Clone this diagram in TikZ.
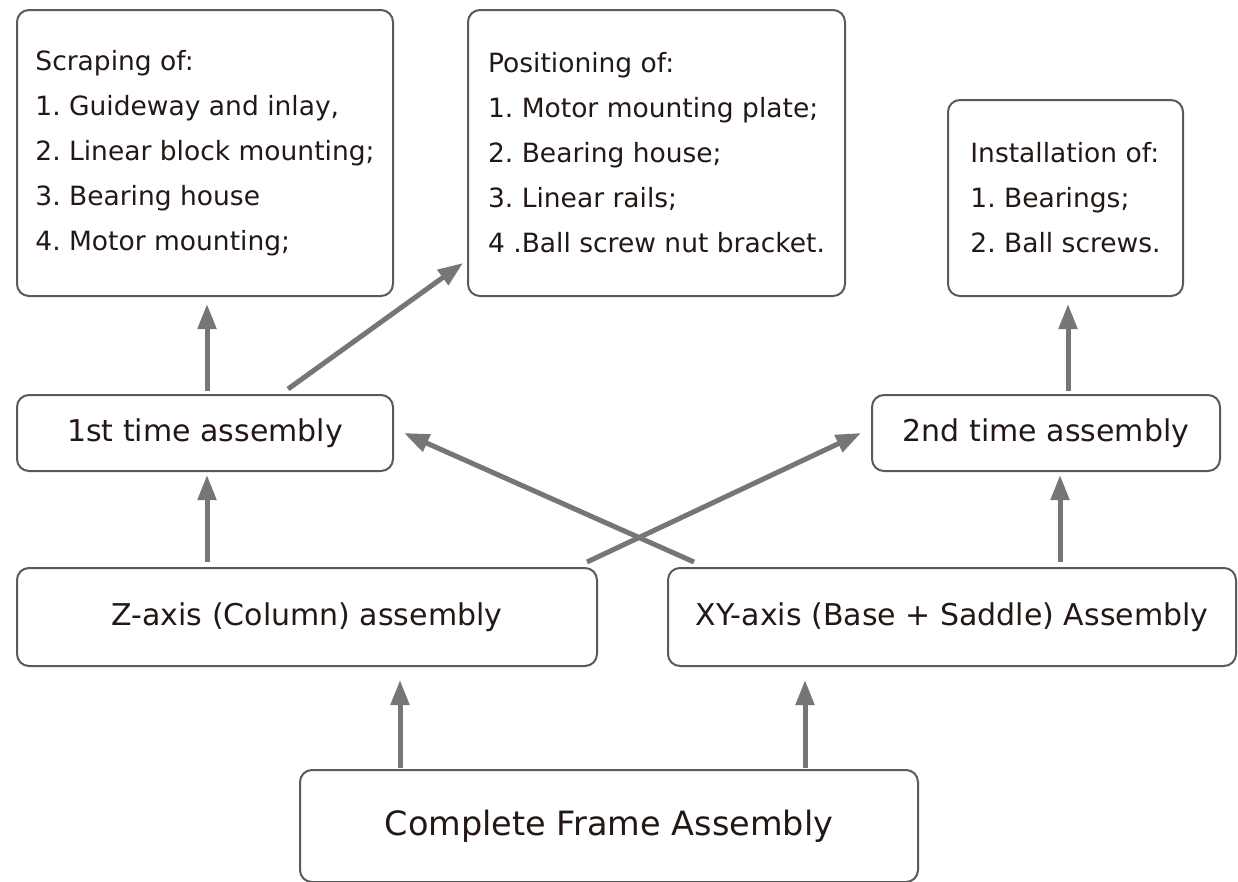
\documentclass[tikz,border=0pt]{standalone}
\usepackage{fontspec}
\setmainfont{DejaVu Sans}
\usetikzlibrary{arrows.meta}
\definecolor{boxline}{HTML}{5A5A5A}
\definecolor{arrowgray}{HTML}{767676}
\definecolor{txt}{HTML}{231816}
\frenchspacing
\begin{document}
\begin{tikzpicture}[x=1pt,y=-1pt,
  box/.style={draw=boxline, line width=2pt, rounded corners=12pt, fill=white,
    text=txt, align=left, inner sep=0pt},
  toptext/.style={font=\fontsize{26.5}{45}\selectfont},
  midtext/.style={font=\fontsize{30}{36}\selectfont},
  bottext/.style={font=\fontsize{33.5}{40}\selectfont},
  arr/.style={draw=arrowgray, line width=5pt,
    -{Triangle[length=25pt,width=18pt]}}]
\useasboundingbox[fill=white] (0,0) rectangle (1238,881);

% top boxes
\node[box, toptext, minimum width=376pt, minimum height=286pt] (A) at (205,153)
  {Scraping of:\\1. Guideway and inlay,\\2. Linear block mounting;\\3. Bearing house\\4. Motor mounting;};
\node[box, toptext, minimum width=377pt, minimum height=286pt] (B) at (656.5,153)
  {Positioning of:\\1. Motor mounting plate;\\2. Bearing house;\\3. Linear rails;\\4 .Ball screw nut bracket.};
\node[box, toptext, minimum width=235pt, minimum height=196pt] (C) at (1065.5,198)
  {Installation of:\\1. Bearings;\\2. Ball screws.};

% middle boxes
\node[box, midtext, minimum width=376pt, minimum height=76pt] (D) at (205,433) {1st time assembly};
\node[box, midtext, minimum width=348pt, minimum height=76pt] (E) at (1046,433) {2nd time assembly};

% lower boxes
\node[box, midtext, minimum width=580pt, minimum height=98pt] (F) at (307,617) {Z-axis (Column) assembly};
\node[box, midtext, minimum width=568pt, minimum height=98pt] (G) at (952,617) {XY-axis (Base + Saddle) Assembly};

% bottom box
\node[box, bottext, minimum width=618pt, minimum height=112pt] (H) at (609,826) {Complete Frame Assembly};

% arrows
\draw[arr] ([xshift=2pt,yshift=3pt]D.north) -- ([xshift=2pt,yshift=-7pt]A.south);
\draw[arr] ([xshift=83pt,yshift=5pt]D.north) -- ([xshift=-4pt,yshift=34pt]B.south west);
\draw[arr] ([xshift=-100pt,yshift=5pt]F.north) -- ([xshift=2pt,yshift=-3pt]D.south);
\draw[arr] ([xshift=27pt,yshift=5pt]G.north west) -- ([xshift=10pt]D.east);
\draw[arr] ([xshift=-11pt,yshift=5pt]F.north east) -- ([xshift=-10pt]E.west);
\draw[arr] ([xshift=108pt,yshift=5pt]G.north) -- ([xshift=14pt,yshift=-3pt]E.south);
\draw[arr] ([xshift=22pt,yshift=3pt]E.north) -- ([xshift=2.5pt,yshift=-7pt]C.south);
\draw[arr] ([xshift=-209pt,yshift=1pt]H.north) -- ([xshift=93pt,yshift=-13pt]F.south);
\draw[arr] ([xshift=196pt,yshift=1pt]H.north) -- ([xshift=-147pt,yshift=-13pt]G.south);
\end{tikzpicture}
\end{document}
